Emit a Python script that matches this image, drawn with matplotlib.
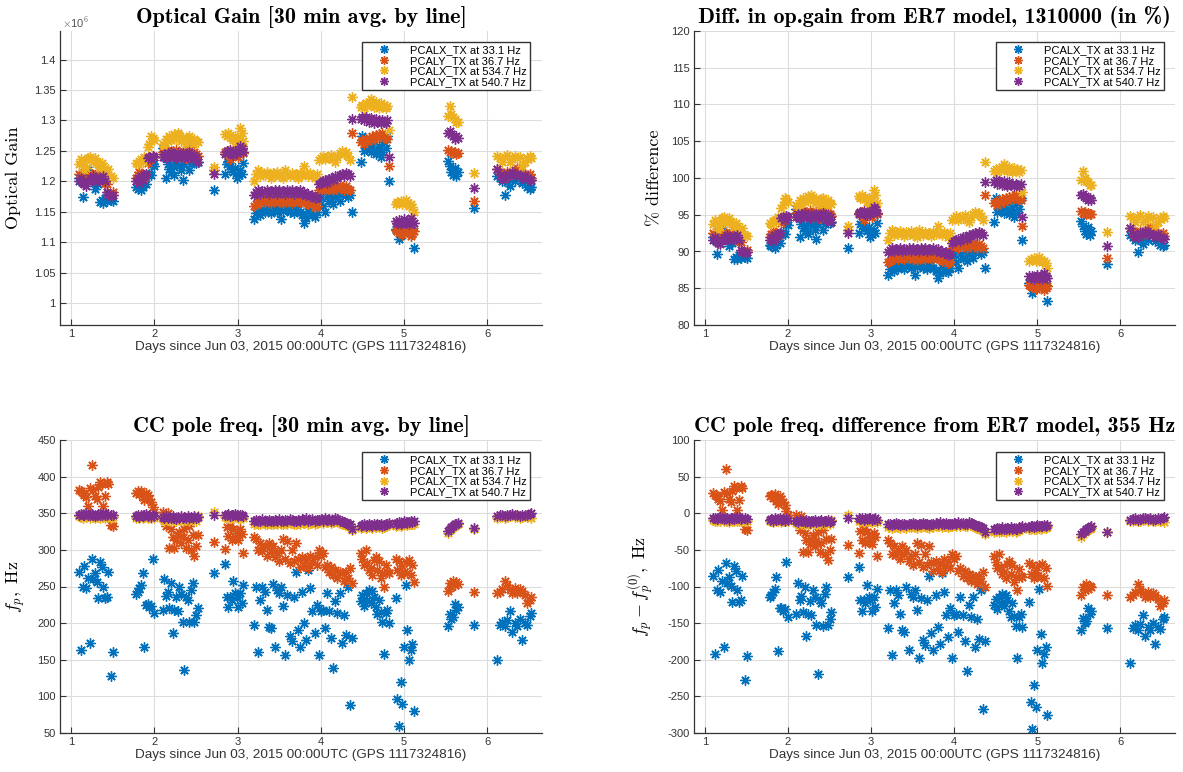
import os
import numpy as np
import matplotlib
import matplotlib.pyplot as plt
from matplotlib.font_manager import FontProperties
from matplotlib.ticker import FuncFormatter

# Days since Jun 03, 2015 00:00 UTC (30 min averages, gaps between locks)
t_days = [
    1.10, 1.12, 1.14, 1.16, 1.18, 1.20, 1.23, 1.25, 1.27, 1.29, 1.31, 1.33, 1.35, 1.37, 1.39, 1.41, 1.43, 1.45, 1.48, 1.50,
    1.78, 1.80, 1.82, 1.84, 1.86, 1.88, 1.90, 1.92, 1.94, 1.96, 1.98, 2.00,
    2.10, 2.12, 2.14, 2.16, 2.18, 2.20, 2.22, 2.24, 2.26, 2.28, 2.30, 2.32, 2.34, 2.36, 2.38, 2.40, 2.42, 2.44, 2.46, 2.48, 2.50, 2.52,
    2.72,
    2.85, 2.87, 2.89, 2.91, 2.93, 2.95, 2.97, 2.99, 3.01, 3.03, 3.05, 3.07,
    3.200, 3.225, 3.250, 3.275, 3.300, 3.325, 3.350, 3.375, 3.400, 3.425, 3.450, 3.475, 3.500, 3.525, 3.550, 3.575,
    3.600, 3.625, 3.650, 3.675, 3.700, 3.725, 3.750, 3.775, 3.800, 3.825, 3.850, 3.875, 3.900, 3.925, 3.950, 3.975,
    4.000, 4.025, 4.050, 4.075, 4.100, 4.125, 4.150, 4.175, 4.200, 4.225, 4.250, 4.275, 4.300, 4.325, 4.350, 4.375,
    4.48, 4.50, 4.52, 4.54, 4.56, 4.58, 4.60, 4.62, 4.64, 4.66, 4.68, 4.70, 4.72, 4.74, 4.76, 4.78, 4.80, 4.82,
    4.90, 4.92, 4.94, 4.96, 4.98, 5.00, 5.02, 5.04, 5.06, 5.08, 5.10, 5.12,
    5.53, 5.55, 5.57, 5.59, 5.61, 5.63, 5.65,
    5.84,
    6.12, 6.15, 6.18, 6.21, 6.24, 6.27, 6.30, 6.33, 6.36, 6.39, 6.42, 6.45, 6.48, 6.51, 6.53,
]

# optical gain, in units of 1e6
gain_x33 = [
    1.205, 1.200, 1.175, 1.210, 1.222, 1.218, 1.212, 1.205, 1.200, 1.188, 1.198, 1.195, 1.166, 1.170, 1.165, 1.172, 1.168, 1.180, 1.170, 1.168,
    1.190, 1.188, 1.192, 1.186, 1.190, 1.205, 1.195, 1.210, 1.212, 1.210, 1.228, 1.226,
    1.255, 1.240, 1.205, 1.228, 1.220, 1.215, 1.225, 1.210, 1.230, 1.240, 1.225, 1.218, 1.202, 1.228, 1.235, 1.258, 1.218, 1.228, 1.240, 1.235, 1.230, 1.232,
    1.186,
    1.212, 1.228, 1.232, 1.225, 1.220, 1.215, 1.222, 1.205, 1.210, 1.218, 1.212, 1.230,
    1.138, 1.148, 1.152, 1.145, 1.155, 1.150, 1.158, 1.152, 1.148, 1.160, 1.155, 1.150, 1.156, 1.138, 1.152, 1.160,
    1.155, 1.150, 1.158, 1.148, 1.155, 1.162, 1.150, 1.145, 1.132, 1.140, 1.152, 1.155, 1.145, 1.142, 1.150, 1.170,
    1.175, 1.160, 1.150, 1.175, 1.168, 1.180, 1.162, 1.175, 1.180, 1.168, 1.178, 1.182, 1.178, 1.175, 1.178, 1.150,
    1.231, 1.275, 1.250, 1.262, 1.255, 1.262, 1.248, 1.258, 1.252, 1.245, 1.250, 1.258, 1.240, 1.248, 1.265, 1.255, 1.275, 1.200,
    1.122, 1.118, 1.105, 1.112, 1.120, 1.125, 1.118, 1.130, 1.122, 1.115, 1.120, 1.091,
    1.234, 1.225, 1.215, 1.210, 1.222, 1.208, 1.215,
    1.157,
    1.209, 1.205, 1.200, 1.178, 1.199, 1.192, 1.205, 1.200, 1.218, 1.210, 1.198, 1.202, 1.190, 1.188, 1.190,
]
gain_y36 = [
    1.212, 1.208, 1.205, 1.215, 1.210, 1.205, 1.208, 1.212, 1.206, 1.210, 1.212, 1.208, 1.205, 1.210, 1.200, 1.198, 1.196, 1.180, 1.178, 1.182,
    1.205, 1.210, 1.215, 1.208, 1.212, 1.206, 1.212, 1.230, 1.238, 1.236, 1.242, 1.240,
    1.248, 1.250, 1.245, 1.252, 1.248, 1.244, 1.250, 1.246, 1.252, 1.248, 1.240, 1.246, 1.250, 1.244, 1.238, 1.246, 1.252, 1.245, 1.240, 1.248, 1.245, 1.242,
    1.218,
    1.248, 1.245, 1.250, 1.236, 1.246, 1.252, 1.244, 1.248, 1.240, 1.250, 1.258, 1.246,
    1.160, 1.162, 1.168, 1.165, 1.170, 1.166, 1.172, 1.168, 1.165, 1.170, 1.168, 1.172, 1.166, 1.170, 1.164, 1.168,
    1.172, 1.168, 1.165, 1.170, 1.174, 1.168, 1.166, 1.172, 1.168, 1.165, 1.162, 1.168, 1.162, 1.158, 1.160, 1.185,
    1.188, 1.190, 1.186, 1.192, 1.188, 1.190, 1.186, 1.192, 1.188, 1.194, 1.190, 1.186, 1.192, 1.188, 1.185, 1.280,
    1.265, 1.268, 1.262, 1.270, 1.266, 1.272, 1.268, 1.274, 1.270, 1.276, 1.272, 1.278, 1.274, 1.280, 1.276, 1.272, 1.270, 1.225,
    1.120, 1.118, 1.115, 1.120, 1.112, 1.118, 1.122, 1.116, 1.120, 1.110, 1.114, 1.118,
    1.251, 1.248, 1.250, 1.246, 1.248, 1.245, 1.246,
    1.168,
    1.220, 1.215, 1.208, 1.205, 1.215, 1.210, 1.212, 1.218, 1.222, 1.215, 1.210, 1.212, 1.208, 1.212, 1.206,
]
gain_x534 = [
    1.228, 1.236, 1.232, 1.218, 1.222, 1.238, 1.240, 1.236, 1.232, 1.238, 1.232, 1.228, 1.222, 1.230, 1.225, 1.215, 1.212, 1.220, 1.208, 1.206,
    1.230, 1.228, 1.233, 1.236, 1.232, 1.240, 1.238, 1.256, 1.262, 1.275, 1.272, 1.268,
    1.262, 1.258, 1.270, 1.266, 1.275, 1.268, 1.272, 1.278, 1.270, 1.280, 1.276, 1.266, 1.272, 1.268, 1.262, 1.272, 1.275, 1.268, 1.262, 1.270, 1.266, 1.264,
    1.224,
    1.278, 1.275, 1.280, 1.276, 1.272, 1.268, 1.275, 1.262, 1.270, 1.288, 1.280, 1.266,
    1.200, 1.212, 1.218, 1.208, 1.214, 1.210, 1.216, 1.212, 1.206, 1.214, 1.210, 1.216, 1.208, 1.212, 1.205, 1.218,
    1.212, 1.208, 1.214, 1.210, 1.212, 1.206, 1.214, 1.210, 1.225, 1.212, 1.208, 1.214, 1.210, 1.205, 1.212, 1.235,
    1.238, 1.242, 1.236, 1.240, 1.238, 1.244, 1.236, 1.232, 1.240, 1.246, 1.250, 1.245, 1.248, 1.242, 1.235, 1.338,
    1.322, 1.326, 1.320, 1.328, 1.324, 1.330, 1.335, 1.326, 1.322, 1.330, 1.325, 1.320, 1.328, 1.322, 1.326, 1.320, 1.324, 1.285,
    1.162, 1.166, 1.164, 1.168, 1.162, 1.166, 1.170, 1.164, 1.160, 1.162, 1.158, 1.150,
    1.307, 1.323, 1.310, 1.305, 1.302, 1.298, 1.297,
    1.214,
    1.242, 1.238, 1.232, 1.240, 1.244, 1.232, 1.236, 1.242, 1.238, 1.240, 1.225, 1.232, 1.238, 1.242, 1.238,
]
gain_y540 = [
    1.200, 1.205, 1.198, 1.195, 1.192, 1.200, 1.205, 1.202, 1.208, 1.205, 1.200, 1.203, 1.206, 1.204, 1.208, 1.200, 1.182, 1.178, 1.176, 1.178,
    1.200, 1.205, 1.198, 1.208, 1.202, 1.210, 1.212, 1.238, 1.240, 1.236, 1.242, 1.240,
    1.240, 1.245, 1.238, 1.246, 1.242, 1.248, 1.240, 1.244, 1.238, 1.246, 1.242, 1.240, 1.246, 1.238, 1.244, 1.240, 1.248, 1.242, 1.236, 1.244, 1.240, 1.232,
    1.212,
    1.245, 1.250, 1.248, 1.252, 1.246, 1.244, 1.250, 1.246, 1.252, 1.258, 1.255, 1.248,
    1.178, 1.182, 1.185, 1.180, 1.184, 1.182, 1.186, 1.180, 1.184, 1.182, 1.185, 1.180, 1.186, 1.182, 1.184, 1.180,
    1.185, 1.182, 1.186, 1.180, 1.184, 1.182, 1.185, 1.180, 1.183, 1.178, 1.180, 1.176, 1.178, 1.172, 1.175, 1.195,
    1.198, 1.200, 1.202, 1.198, 1.204, 1.205, 1.202, 1.208, 1.206, 1.210, 1.212, 1.208, 1.214, 1.212, 1.208, 1.302,
    1.302, 1.306, 1.300, 1.305, 1.302, 1.298, 1.304, 1.300, 1.296, 1.302, 1.298, 1.300, 1.296, 1.300, 1.298, 1.296, 1.300, 1.240,
    1.135, 1.132, 1.136, 1.130, 1.134, 1.138, 1.132, 1.136, 1.130, 1.140, 1.135, 1.132,
    1.280, 1.282, 1.278, 1.275, 1.270, 1.274, 1.271,
    1.189,
    1.220, 1.210, 1.204, 1.205, 1.212, 1.210, 1.215, 1.210, 1.212, 1.208, 1.205, 1.210, 1.205, 1.203, 1.202,
]

# coupled-cavity pole frequency, Hz
fp_x33 = [
    270, 163, 250, 278, 248, 262, 173, 287, 260, 268, 256, 234, 283, 276, 250, 234, 236, 270, 128, 160,
    240, 243, 248, 252, 268, 167, 225, 226, 222, 224, 288, 214,
    218, 260, 237, 242, 220, 255, 187, 218, 235, 216, 250, 240, 202, 136, 236, 232, 201, 245, 255, 202, 211, 220,
    268,
    281, 236, 222, 236, 232, 257, 241, 236, 222, 241, 227, 252,
    198, 250, 161, 232, 250, 243, 218, 195, 193, 254, 168, 245, 241, 250, 223, 157,
    239, 182, 175, 236, 270, 191, 168, 243, 200, 177, 273, 248, 216, 186, 225, 157,
    216, 218, 193, 241, 216, 180, 139, 230, 214, 241, 173, 211, 184, 250, 88, 180,
    230, 238, 224, 241, 232, 245, 228, 244, 236, 222, 213, 232, 215, 201, 158, 214, 218, 200,
    234, 97, 60, 120, 90, 168, 252, 190, 150, 163, 172, 80,
    196, 212, 205, 208, 226, 218, 222,
    198,
    150, 198, 202, 196, 204, 216, 188, 200, 196, 205, 177, 200, 197, 210, 214,
]
fp_y36 = [
    382, 380, 378, 375, 372, 360, 384, 416, 382, 374, 370, 386, 392, 390, 360, 373, 392, 390, 334, 332,
    378, 380, 376, 381, 372, 368, 378, 375, 370, 366, 358, 352,
    352, 344, 332, 351, 302, 328, 318, 302, 313, 320, 325, 310, 317, 329, 302, 314, 332, 300, 320, 291, 305, 320,
    311,
    301, 331, 319, 333, 314, 329, 318, 323, 313, 328, 322, 296,
    318, 315, 300, 310, 298, 305, 292, 310, 300, 305, 290, 296, 285, 300, 315, 288,
    312, 282, 300, 285, 310, 288, 276, 290, 280, 286, 275, 292, 284, 290, 280, 300,
    292, 296, 276, 280, 270, 276, 266, 272, 262, 270, 268, 258, 270, 262, 275, 255,
    296, 288, 280, 300, 282, 272, 275, 266, 286, 290, 272, 285, 261, 268, 250, 279, 270, 268,
    287, 272, 285, 266, 278, 270, 284, 268, 286, 266, 280, 256,
    244, 255, 250, 258, 252, 256, 254,
    243,
    241, 243, 247, 258, 252, 246, 241, 248, 241, 246, 244, 238, 228, 232, 236,
]
fp_x534 = [
    346, 345, 344, 346, 345, 347, 344, 346, 345, 343, 346, 345, 344, 346, 345, 344, 346, 345, 344, 345,
    344, 345, 343, 346, 344, 345, 347, 343, 345, 344, 346, 344,
    342, 340, 343, 341, 343, 340, 342, 341, 340, 342, 341, 343, 340, 342, 341, 343, 340, 342, 341, 343, 340, 346,
    352,
    345, 344, 346, 343, 345, 344, 346, 345, 343, 344, 345, 343,
    336, 337, 335, 336, 338, 336, 335, 337, 336, 335, 337, 336, 338, 336, 335, 337,
    336, 338, 337, 336, 335, 337, 336, 338, 337, 339, 336, 337, 338, 336, 337, 338,
    339, 337, 340, 338, 339, 337, 338, 340, 339, 337, 336, 335, 334, 333, 332, 327,
    330, 331, 332, 330, 331, 333, 331, 330, 332, 331, 333, 331, 332, 330, 331, 333, 336, 334,
    333, 334, 335, 333, 334, 336, 335, 334, 335, 336, 335, 336,
    323, 327, 329, 331, 333, 334, 335,
    329,
    344, 345, 346, 344, 345, 346, 347, 345, 348, 344, 345, 346, 345, 346, 343,
]
fp_y540 = [
    348, 349, 347, 348, 350, 348, 347, 349, 348, 346, 348, 349, 347, 348, 350, 348, 347, 349, 348, 347,
    346, 347, 345, 348, 346, 347, 349, 346, 347, 345, 348, 346,
    345, 343, 346, 344, 345, 343, 346, 344, 342, 345, 344, 346, 343, 345, 344, 346, 343, 345, 344, 346, 343, 345,
    348,
    348, 347, 349, 346, 348, 347, 349, 348, 346, 347, 348, 346,
    340, 341, 339, 340, 342, 340, 339, 341, 340, 339, 341, 340, 342, 340, 339, 341,
    340, 342, 341, 340, 339, 341, 340, 342, 341, 343, 340, 341, 342, 340, 341, 341,
    342, 340, 343, 341, 342, 340, 341, 343, 342, 340, 339, 338, 337, 336, 335, 329,
    333, 334, 335, 333, 334, 336, 334, 333, 335, 334, 336, 334, 335, 333, 334, 336, 335, 337,
    336, 337, 338, 336, 337, 339, 338, 337, 338, 339, 338, 339,
    326, 329, 331, 333, 335, 336, 337,
    330,
    346, 347, 348, 346, 347, 348, 349, 347, 348, 346, 347, 348, 347, 349, 350,
]

gain_model = 1310000   # ER7 model optical gain
fp_model = 355         # ER7 model cavity pole, Hz

labels = ['PCALX_TX at 33.1 Hz', 'PCALY_TX at 36.7 Hz', 'PCALX_TX at 534.7 Hz', 'PCALY_TX at 540.7 Hz']
colors = ['#0072BD', '#D95319', '#EDB120', '#7E2F8E']

plt.rcParams['mathtext.fontset'] = 'cm'
plt.rcParams['font.family'] = ['Liberation Sans', 'DejaVu Sans']

# computer modern fonts shipped with matplotlib, for the LaTeX-looking titles/labels
ttf_dir = os.path.join(matplotlib.get_data_path(), 'fonts', 'ttf')
cm_bold = FontProperties(fname=os.path.join(ttf_dir, 'cmb10.ttf'), size=15.9)
cm_roman = FontProperties(fname=os.path.join(ttf_dir, 'cmr10.ttf'), size=13)

t = np.array(t_days)
gains = [np.array(g) for g in (gain_x33, gain_y36, gain_x534, gain_y540)]
fps = [np.array(f) for f in (fp_x33, fp_y36, fp_x534, fp_y540)]

fig = plt.figure(figsize=(11.83, 7.72), dpi=100)
W, H = 1183.0, 772.0


def add_ax(left, top, right, bottom):
    return fig.add_axes([left / W, 1 - bottom / H, (right - left) / W, (bottom - top) / H])


def style(ax, ylim, yticks, title, ylabel, ylab_x, leg_x, leg_y, ylab_font=None):
    ax.set_xlim(0.868, 6.657)
    ax.set_ylim(*ylim)
    ax.set_xticks(range(1, 7))
    ax.set_yticks(yticks)
    ax.yaxis.set_major_formatter(FuncFormatter(lambda v, p: '%g' % round(v, 4)))
    ax.grid(True, color='#dcdcdc', lw=0.8)
    ax.set_axisbelow(True)
    for s in ['top', 'right']:
        ax.spines[s].set_visible(False)
    for s in ['left', 'bottom']:
        ax.spines[s].set_color('#333333')
        ax.spines[s].set_linewidth(0.9)
    ax.tick_params(direction='in', length=4, width=0.8, labelsize=8, colors='#333333', pad=3)
    ax.set_xlabel('Days since Jun 03, 2015 00:00UTC (GPS 1117324816)', fontsize=9.7,
                  color='#333333', labelpad=1)
    ax.set_title(title, fontproperties=cm_bold, pad=6)
    if ylab_font is not None:
        ax.set_ylabel(ylabel, fontproperties=ylab_font)
    else:
        ax.set_ylabel(ylabel, fontsize=13)
    ax.yaxis.set_label_coords(ylab_x, 0.5)
    leg = ax.legend(loc='upper right', bbox_to_anchor=(leg_x, leg_y), borderaxespad=0,
                    fontsize=8, frameon=True, fancybox=False, framealpha=1,
                    handlelength=3.4, handletextpad=0.6, borderpad=0.3,
                    labelspacing=0.05, markerscale=0.85)
    leg.get_frame().set_edgecolor('#333333')
    leg.get_frame().set_linewidth(1.0)


def scatter_lines(ax, ys):
    for y, c, lab in zip(ys, colors, labels):
        ax.plot(t, y, ls='none', marker=(8, 2, 0), ms=7.3, mew=1.0, color=c, label=lab)


ax_gain = add_ax(60, 31, 542, 325)
ax_pct = add_ax(694, 31, 1175, 325)
ax_fp = add_ax(60, 440, 542, 733)
ax_dfp = add_ax(694, 440, 1175, 733)

# optical gain
scatter_lines(ax_gain, gains)
style(ax_gain, (0.964, 1.447), np.arange(1.0, 1.401, 0.05),
      'Optical Gain [30 min avg. by line]', 'Optical Gain',
      -0.08, 0.975, 0.963, ylab_font=cm_roman)
ax_gain.text(0.004, 1.004, r'$\times$10$^{6}$', transform=ax_gain.transAxes,
             fontsize=8, color='#555555', ha='left', va='bottom')

# % of model gain
scatter_lines(ax_pct, [g * 1e6 / gain_model * 100 for g in gains])
style(ax_pct, (80, 120), np.arange(80, 121, 5),
      'Diff. in op.gain from ER7 model, 1310000 (in %)', '% difference',
      -0.067, 0.977, 0.963, ylab_font=cm_roman)

# cavity pole
scatter_lines(ax_fp, fps)
style(ax_fp, (50, 450), np.arange(50, 451, 50),
      'CC pole freq. [30 min avg. by line]', r'$f_p,\ \mathrm{Hz}$',
      -0.068, 0.975, 0.959)

# cavity pole minus model
scatter_lines(ax_dfp, [f - fp_model for f in fps])
style(ax_dfp, (-300, 100), np.arange(-300, 101, 50),
      'CC pole freq. difference from ER7 model, 355 Hz', r'$f_p - f_p^{(0)},\ \mathrm{Hz}$',
      -0.079, 0.977, 0.959)

fig.savefig('out.png', dpi=100)
